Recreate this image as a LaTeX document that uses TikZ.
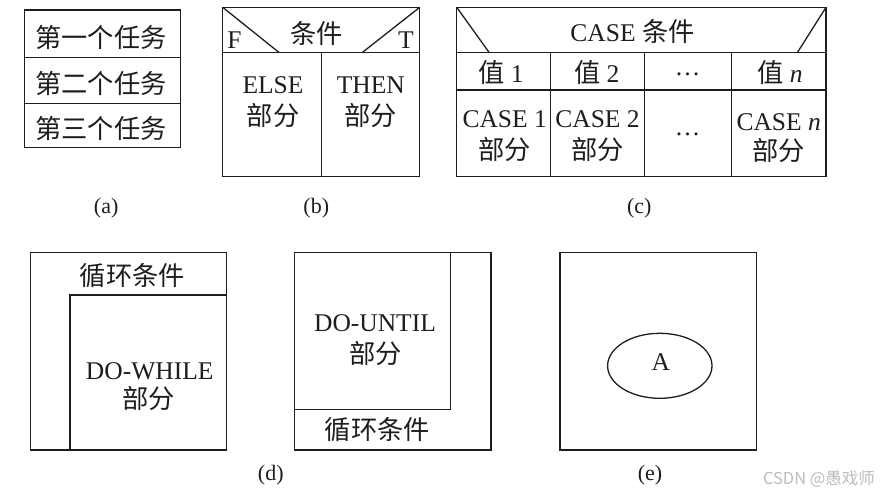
\documentclass[tikz,border=0pt]{standalone}
\usepackage{fontspec}
\setmainfont{Liberation Serif}
\newfontfamily\cjk[Scale=1.03]{Noto Sans CJK SC}
\definecolor{ink}{HTML}{1E1E1E}
\definecolor{wm}{HTML}{BDBDBD}
\begin{document}
\begin{tikzpicture}[x=1pt,y=-1pt,
  ln/.style={draw=ink,line width=1.3pt},
  tx/.style={inner sep=0pt,text=ink,font=\fontsize{25.5}{27}\selectfont},
  sublabel/.style={inner sep=0pt,text=ink,font=\fontsize{22}{24}\selectfont}]
\useasboundingbox[fill=white] (0,0) rectangle (880,495);

% (a)
\draw[ln] (24.3,10) rectangle (180.3,147.7);
\draw[ln] (24.3,57.3) -- (180.3,57.3) (24.3,103.3) -- (180.3,103.3);
\node[tx] (a1) at (101,37.5) {\cjk 第一个任务};
\node[tx] (a2) at (101,83.3) {\cjk 第二个任务};
\node[tx] (a3) at (101,128.3) {\cjk 第三个任务};
\node[sublabel] (la) at (106.2,208.5) {(a)};

% (b)
\draw[ln] (222.7,7.3) rectangle (419.7,176.7);
\draw[ln] (222.7,52.7) -- (419.7,52.7) (321.7,52.7) -- (321.7,176.7);
\draw[ln] (222.7,7.3) -- (279.3,52.7) (419.7,7.3) -- (362,52.7);
\node[tx] (bc) at (316.8,33.8) {\cjk 条件};
\node[tx] (bf) at (234.5,40) {F};
\node[tx] (bt) at (406,40) {T};
\node[tx] (be) at (273,85) {ELSE};
\node[tx] (be2) at (273,115.8) {\cjk 部分};
\node[tx] (bth) at (370.8,85) {THEN};
\node[tx] (bth2) at (370.8,115.8) {\cjk 部分};
\node[sublabel] (lb) at (316.3,208.5) {(b)};

% (c)
\draw[ln] (456.7,7.3) rectangle (826,176.7);
\draw[ln] (456.7,52.7) -- (826,52.7) (456.7,90) -- (826,90);
\draw[ln] (550.3,52.7) -- (550.3,176.7) (644.7,52.7) -- (644.7,176.7) (731.7,52.7) -- (731.7,176.7);
\draw[ln] (456.7,7.3) -- (489.3,52.7) (826,7.3) -- (797.3,52.7);
\node[tx] (cc) at (632.5,31) {CASE {\cjk 条件}};
\node[tx] (cv1) at (500.8,72.5) {{\cjk 值} 1};
\node[tx] (cv2) at (596.7,72.5) {{\cjk 值} 2};
\node[tx] (cv3) at (687.5,74) {…};
\node[tx] (cvn) at (780,72.5) {{\cjk 值} \textit{n}};
\node[tx] (cp1) at (504.7,119.2) {CASE 1};
\node[tx] (cp1b) at (504.7,150) {\cjk 部分};
\node[tx] (cp2) at (597.5,119.2) {CASE 2};
\node[tx] (cp2b) at (597.5,150) {\cjk 部分};
\node[tx] (cp3) at (687.5,134) {…};
\node[tx] (cpn) at (778.7,122) {CASE \textit{n}};
\node[tx] (cpnb) at (778.7,151) {\cjk 部分};
\node[sublabel] (lc) at (639.2,208.5) {(c)};

% (d) left
\draw[ln] (30.7,252.7) rectangle (226.7,450);
\draw[ln] (70,450) -- (70,295) -- (226.7,295);
\node[tx] (dw1) at (132.5,275.8) {\cjk 循环条件};
\node[tx] (dw2) at (149.7,370.8) {DO-WHILE};
\node[tx] (dw3) at (148.7,399) {\cjk 部分};
% (d) right
\draw[ln] (294.7,252.7) rectangle (491,450);
\draw[ln] (450.7,252.7) -- (450.7,409.3) -- (294.7,409.3);
\node[tx] (du1) at (375,323.3) {DO-UNTIL};
\node[tx] (du2) at (375.8,354) {\cjk 部分};
\node[tx] (du3) at (377.5,430) {\cjk 循环条件};
\node[sublabel] (ld) at (270.8,475) {(d)};

% (e)
\draw[ln] (560,252.3) rectangle (756.7,450);
\draw[ln] (659.8,365.8) ellipse [x radius=52.2pt, y radius=32.5pt];
\node[tx] (ea) at (660.8,362.5) {A};
\node[sublabel] (le) at (650,475) {(e)};

% watermark
\node[inner sep=0pt,text=wm,font=\cjk\fontsize{16}{18}\selectfont] (w) at (819,479) {CSDN @愚戏师};
\end{tikzpicture}
\end{document}
